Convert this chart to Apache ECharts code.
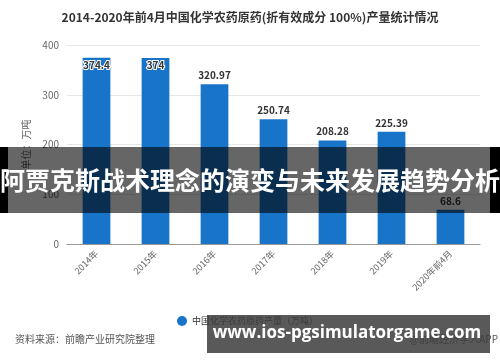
<!DOCTYPE html>
<html><head><meta charset="utf-8">
<script src="https://cdn.jsdelivr.net/npm/echarts@6/dist/echarts.min.js"></script>
<style>html,body{margin:0;padding:0;background:#fff}#c{width:500px;height:362px}</style>
</head><body><div id="c"></div>
<script>
const categories = ['2014年','2015年','2016年','2017年','2018年','2019年','2020年前4月'];
const values = [374.4, 374, 320.97, 250.74, 208.28, 225.39, 68.6];
const yTicks = [0, 100, 200, 300, 400];
const seriesName = '中国化学农药原药产量（万吨）';
const titleText = '2014-2020年前4月中国化学农药原药(折有效成分 100%)产量统计情况';
const sourceText = '资料来源：前瞻产业研究院整理';
const brandText = '@前瞻经济学人APP';
const bannerText = '阿贾克斯战术理念的演变与未来发展趋势分析';
const siteText = 'www.ios-pgsimulatorgame.com';

const F = '"Noto Sans CJK SC", "Noto Sans", sans-serif';
const chart = echarts.init(document.getElementById('c'));
const data = values.map((v, i) => ({
  value: v,
  label: i < 2 ? {position: 'insideTop', distance: 2, color: '#333', textBorderColor: '#fff', textBorderWidth: 2} : {position: 'top', distance: 4, color: '#333'}
}));
chart.setOption({
  animation: false,
  title: {text: titleText, left: 'center', top: 6, textStyle: {fontFamily: F, fontSize: 12, fontWeight: 'bold', color: '#333'}},
  grid: {left: 67, right: 20, top: 45, bottom: 118},
  legend: {bottom: 31, left: 172, itemWidth: 10, itemHeight: 10, icon: 'circle', textStyle: {fontFamily: F, fontSize: 9, color: '#333'}, data: [seriesName]},
  xAxis: {type: 'category', data: categories,
    axisTick: {alignWithLabel: true, lineStyle: {color: '#999'}}, axisLine: {lineStyle: {color: '#999'}},
    axisLabel: {rotate: 45, fontFamily: F, fontSize: 9, color: '#666', interval: 0}},
  yAxis: {type: 'value', min: yTicks[0], max: yTicks[yTicks.length-1], interval: 100,
    name: '单位：万吨', nameLocation: 'middle', nameGap: 34, nameRotate: 90,
    nameTextStyle: {fontFamily: F, fontSize: 10, color: '#666'},
    axisLine: {show: false}, axisTick: {show: false},
    axisLabel: {fontFamily: F, fontSize: 10, color: '#666'},
    splitLine: {lineStyle: {color: '#e6e6e6'}}},
  series: [{name: seriesName, type: 'bar', data: data, barWidth: '47%',
    itemStyle: {color: '#1874C8'},
    label: {show: true, fontFamily: F, fontSize: 10, fontWeight: 'bold'}}],
  graphic: [
    {type: 'text', left: 15, top: 334, style: {text: sourceText, font: '10px ' + F, fill: '#555'}},
    {type: 'text', right: 2, top: 334, style: {text: brandText, font: '10px ' + F, fill: '#555'}},
    {type: 'rect', shape: {x: 8, y: 147, width: 482, height: 66}, style: {fill: 'rgba(0,0,0,0.6)'}, z: 100},
    {type: 'rect', shape: {x: 0, y: 147, width: 8, height: 66}, style: {fill: '#000'}, z: 100},
    {type: 'rect', shape: {x: 490, y: 147, width: 10, height: 66}, style: {fill: '#000'}, z: 100},
    {type: 'text', x: 250, y: 180, style: {text: bannerText, font: 'bold 25px ' + F, fill: '#fff', textAlign: 'center', textVerticalAlign: 'middle'}, z: 101},
    {type: 'rect', shape: {x: 207, y: 315, width: 283, height: 38}, style: {fill: 'rgba(60,60,60,0.85)'}, z: 100},
    {type: 'text', x: 347, y: 333, style: {text: siteText, font: 'bold 17px "Open Sans", sans-serif', fill: '#fff', textAlign: 'center', textVerticalAlign: 'middle'}, z: 101}
  ]
});
</script></body></html>
